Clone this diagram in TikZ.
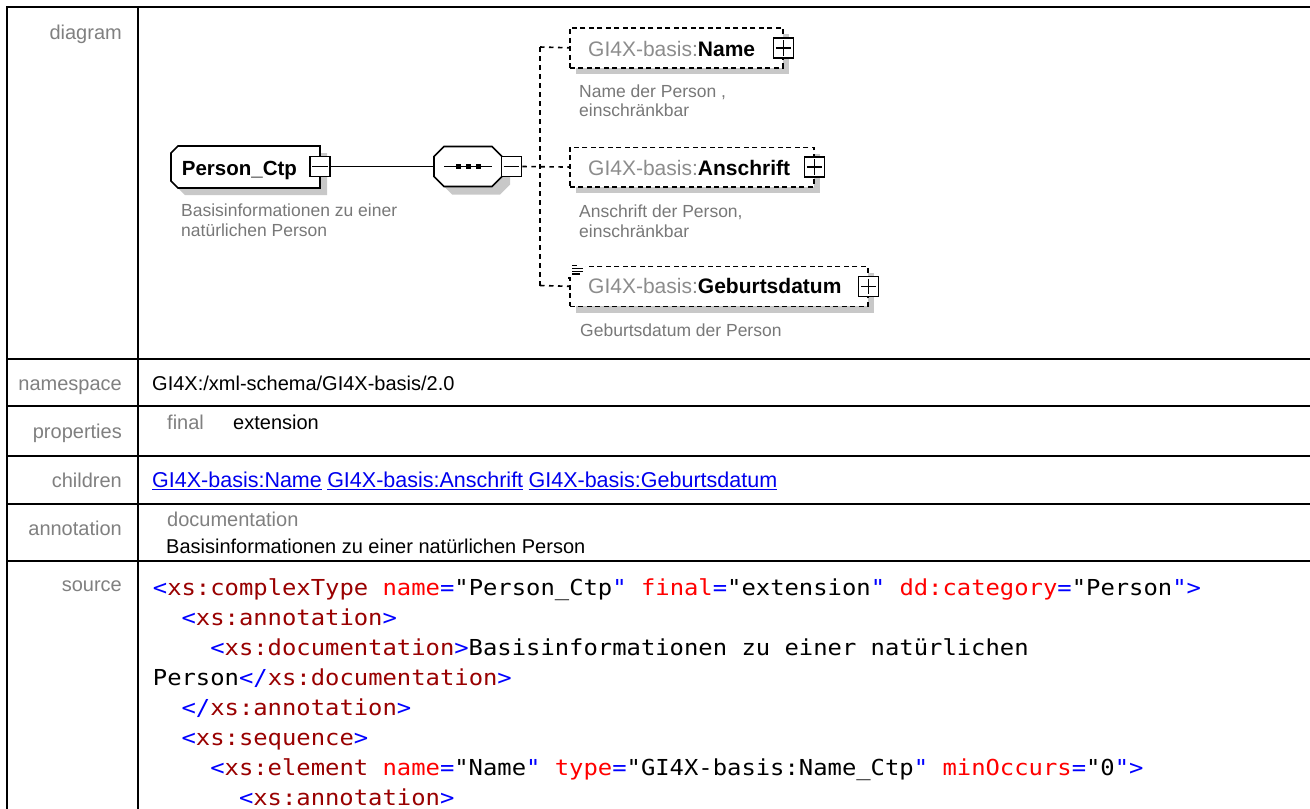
\documentclass[tikz,border=0pt]{standalone}
\usepackage{fontspec}
\setmainfont{Liberation Sans}
\newfontfamily\codefont[FakeStretch=1.084]{DejaVu Sans Mono}
\definecolor{lblgray}{RGB}{128,128,128}
\definecolor{anngray}{RGB}{120,120,120}
\definecolor{elgray}{RGB}{140,140,140}
\definecolor{linkblue}{RGB}{0,0,238}
\definecolor{tagblue}{RGB}{0,0,255}
\definecolor{elemred}{RGB}{153,0,0}
\definecolor{attrred}{RGB}{255,0,0}
\definecolor{shadowc}{RGB}{200,200,200}
\newcommand\xB[1]{\textcolor{tagblue}{#1}}
\newcommand\xE[1]{\textcolor{elemred}{#1}}
\newcommand\xA[1]{\textcolor{attrred}{#1}}
\begin{document}
\begin{tikzpicture}[x=1pt,y=-1pt,
  tbl/.style={line width=2pt, black},
  lbl/.style={anchor=base east, inner sep=0, text=lblgray, font=\fontsize{20}{24}\selectfont},
  val/.style={anchor=base west, inner sep=0, text=black, font=\fontsize{20}{24}\selectfont},
  lnk/.style={anchor=base west, inner sep=0, text=linkblue, font=\fontsize{21.5}{26}\selectfont},
  ann/.style={anchor=base west, inner sep=0, text=anngray, font=\fontsize{17.5}{20}\selectfont},
  eltxt/.style={anchor=base west, inner sep=0, font=\fontsize{21}{25}\selectfont},
  codeline/.style={anchor=base west, inner sep=0, font=\codefont\fontsize{22}{26}\selectfont},
  elbox/.style={draw, dash pattern=on 5pt off 3.5pt, line width=1.6pt, fill=white, inner sep=0, anchor=north west, minimum height=40pt},
  pmbox/.style={draw, fill=white, line width=1.6pt, minimum width=20pt, minimum height=20pt, inner sep=0},
  conn/.style={line width=1.6pt},
  dconn/.style={line width=1.6pt, dash pattern=on 4.5pt off 4.5pt}]
\useasboundingbox (0,0) rectangle (1310,809);
\fill[white] (0,0) rectangle (1310,809);

% table grid
\draw[tbl] (6,7) -- (1310,7);
\draw[tbl] (7,6) -- (7,809);
\draw[tbl] (137.7,7) -- (137.7,809);
\foreach \yy in {358.5,406,456,504,561} \draw[tbl] (7,\yy) -- (1310,\yy);

% labels
\node[lbl] (lDia) at (122,39.5) {diagram};
\node[lbl] (lNs) at (122,390.5) {namespace};
\node[lbl] (lProp) at (122,438) {properties};
\node[lbl] (lChild) at (122,487.3) {children};
\node[lbl] (lAnn) at (122,535) {annotation};
\node[lbl] (lSrc) at (122,591.7) {source};

% values
\node[val] (vNs) at (152,390.5) {GI4X:/xml-schema/GI4X-basis/2.0};
\node[val, text=lblgray] (vFinal) at (167,429) {final};
\node[val] (vExt) at (233,429) {extension};
\node[lnk] (c1) at (152,487.3) {\underline{GI4X-basis:Name}};
\node[lnk] (c2) at ([xshift=5pt]c1.base east) {\underline{GI4X-basis:Anschrift}};
\node[lnk] (c3) at ([xshift=5pt]c2.base east) {\underline{GI4X-basis:Geburtsdatum}};
\node[val, text=lblgray] (vDoc) at (167,526.7) {documentation};
\node[val] (vDocTxt) at (166,553.3) {Basisinformationen zu einer natürlichen Person};

% source code
\node[codeline] (s1) at (152.7,595) {\xB{<}\xE{xs:complexType} \xA{name}\xB{=}"Person\_Ctp\xB{"} \xA{final}\xB{=}"extension\xB{"} \xA{dd:category}\xB{=}"Person\xB{"}\xB{>}};
\node[codeline] (s2) at (181.4,625.1) {\xB{<}\xE{xs:annotation}\xB{>}};
\node[codeline] (s3) at (210.1,655.2) {\xB{<}\xE{xs:documentation}\xB{>}Basisinformationen zu einer natürlichen};
\node[codeline] (s4) at (152.7,685.3) {Person\xB{</}\xE{xs:documentation}\xB{>}};
\node[codeline] (s5) at (181.4,715.4) {\xB{</}\xE{xs:annotation}\xB{>}};
\node[codeline] (s6) at (181.4,745.5) {\xB{<}\xE{xs:sequence}\xB{>}};
\node[codeline] (s7) at (210.1,775.6) {\xB{<}\xE{xs:element} \xA{name}\xB{=}"Name\xB{"} \xA{type}\xB{=}"GI4X-basis:Name\_Ctp\xB{"} \xA{minOccurs}\xB{=}"0\xB{"}\xB{>}};
\node[codeline] (s8) at (238.8,805.7) {\xB{<}\xE{xs:annotation}\xB{>}};

% ---------- diagram ----------
% shadows
\begin{scope}[shift={(7,7)}]
  \fill[shadowc] (178,146) -- (320,146) -- (320,188) -- (178,188) -- (171,181) -- (171,153) -- cycle;
\end{scope}
\begin{scope}[shift={(8,8)}]
  \fill[shadowc] (444,146.5) -- (492,146.5) -- (502,156.5) -- (502,176.5) -- (492,186.5) -- (444,186.5) -- (434,176.5) -- (434,156.5) -- cycle;
\end{scope}
\fill[shadowc] (576,34) rectangle (789,74);
\fill[shadowc] (576,153.5) rectangle (820,193);
\fill[shadowc] (576,272.5) rectangle (874,312.5);

% Person_Ctp
\draw[fill=white, line width=1.6pt] (178,146) -- (320,146) -- (320,188) -- (178,188) -- (171,181) -- (171,153) -- cycle;
\node[eltxt] (pcText) at (181.7,175) {\fontsize{20.5}{25}\selectfont\textbf{Person\_Ctp}};
\node[pmbox] (pcMinus) at (320,166.5) {};
\draw[line width=1.6pt] ([xshift=3pt]pcMinus.west) -- ([xshift=-3pt]pcMinus.east);
\node[ann] (aPc1) at (181,216.7) {Basisinformationen zu einer};
\node[ann] (aPc2) at (181,236.7) {natürlichen Person};

% sequence
\draw[fill=white, line width=1.6pt] (444,146.5) -- (492,146.5) -- (502,156.5) -- (502,176.5) -- (492,186.5) -- (444,186.5) -- (434,176.5) -- (434,156.5) -- cycle;
\node[inner sep=0, minimum width=68pt, minimum height=40pt] (seq) at (468,166.5) {};
\draw[line width=1.6pt] (444,166.5) -- (492,166.5);
\foreach \xx in {458,468,478} \fill (\xx,166.5) +(-2.5,-2.5) rectangle +(2.5,2.5);
\node[pmbox] (seqMinus) at (511.5,166.5) {};
\draw[line width=1.6pt] ([xshift=3pt]seqMinus.west) -- ([xshift=-3pt]seqMinus.east);

\draw[conn] (pcMinus.east) -- (seq.west);

% elements
\node[elbox, minimum width=213pt] (eName) at (569,27) {};
\node[elbox, minimum width=244pt, minimum height=39.5pt] (eAns) at (569,146.5) {};
\node[elbox, minimum width=298pt] (eGeb) at (569,265.5) {};

\node[eltxt] (tName) at (588,56) {\textcolor{elgray}{GI4X-basis:}\textbf{Name}};
\node[eltxt] (tAns) at (588,175) {\textcolor{elgray}{GI4X-basis:}\textbf{Anschrift}};
\node[eltxt] (tGeb) at (588,293.5) {\textcolor{elgray}{GI4X-basis:}\textbf{Geburtsdatum}};

\foreach \bx in {eName,eAns,eGeb} {
  \node[pmbox] (p\bx) at (\bx.east) {};
  \draw[line width=1.6pt] ([xshift=3pt]p\bx.west) -- ([xshift=-3pt]p\bx.east)
                          ([yshift=-3pt]p\bx.north) -- ([yshift=3pt]p\bx.south);
}

% documentation icon on Geburtsdatum
\fill[white] (566,262) rectangle (584.5,276.5);
\draw[line width=1.2pt] (572,265.5) -- (576.5,265.5)
  (572,268.3) -- (583,268.3)
  (572,271.1) -- (583,271.1)
  (572,273.9) -- (580,273.9);
\draw[line width=1.6pt] (569,276.5) -- (569,279);

\node[ann] (aN1) at (579,97.3) {Name der Person ,};
\node[ann] (aN2) at (579,116.7) {einschränkbar};
\node[ann] (aA1) at (579,217.3) {Anschrift der Person,};
\node[ann] (aA2) at (579,237.3) {einschränkbar};
\node[ann] (aG1) at (580,336) {Geburtsdatum der Person};

% dashed connectors
\coordinate (jTop) at (540,47);
\coordinate (jBot) at (540,285.5);
\draw[dconn] (seqMinus.east) -- (eAns.west);
\draw[dconn] (jTop) -- (jBot);
\draw[dconn] (jTop) -- (eName.west);
\draw[dconn] (jBot) -- (eGeb.west);
\end{tikzpicture}
\end{document}
